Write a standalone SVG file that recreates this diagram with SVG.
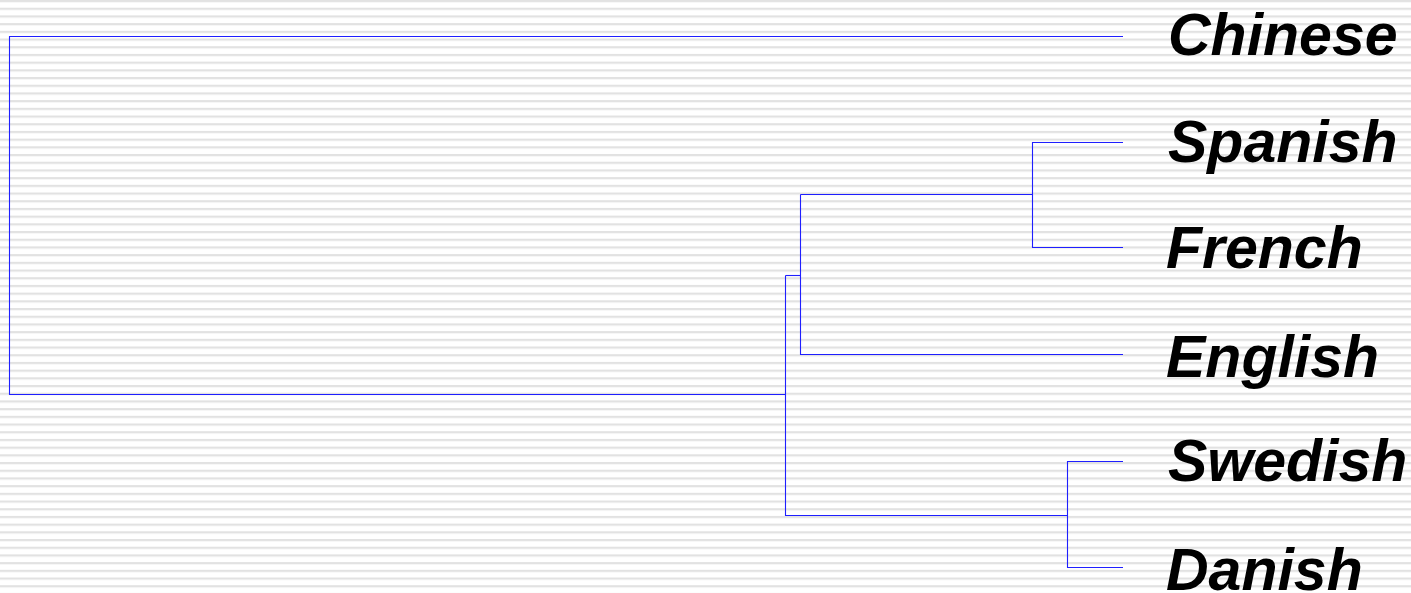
<svg xmlns="http://www.w3.org/2000/svg" width="1411" height="593" viewBox="0 0 1411 593">
<defs>
<pattern id="stripes" x="0" y="0" width="20" height="7.7" patternUnits="userSpaceOnUse">
<rect x="0" y="0" width="20" height="7.7" fill="#ffffff"/>
<rect x="0" y="0" width="20" height="2.2" fill="#e2e2e2"/>
</pattern>
</defs>
<style>
.edge{fill:none;stroke:#1f1fff;stroke-width:1.1;}
.lbl{font-family:"Liberation Sans",Arial,sans-serif;font-weight:bold;font-style:italic;font-size:59px;fill:#000;}
</style>
<rect x="0" y="0" width="1411" height="593" fill="url(#stripes)"/>
<g id="connectors">
<path class="edge" d="M1123,36.5 H9.5 V394.5 H785.5"/>
<path class="edge" d="M785.5,275.5 V515.5 H1067.5"/>
<path class="edge" d="M785.5,275.5 H800.5"/>
<path class="edge" d="M800.5,194.5 V354.5 H1123"/>
<path class="edge" d="M800.5,194.5 H1032.5"/>
<path class="edge" d="M1123,142.5 H1032.5 V247.5 H1123"/>
<path class="edge" d="M1123,461.5 H1067.5 V567.5 H1123"/>
</g>
<g id="chinese"><text class="lbl" x="1168" y="55">Chinese</text></g>
<g id="spanish"><text class="lbl" x="1168" y="162">Spanish</text></g>
<g id="french"><text class="lbl" x="1166" y="268">French</text></g>
<g id="english"><text class="lbl" x="1166" y="377">English</text></g>
<g id="swedish"><text class="lbl" x="1168" y="481">Swedish</text></g>
<g id="danish"><text class="lbl" x="1166" y="590">Danish</text></g>
</svg>
